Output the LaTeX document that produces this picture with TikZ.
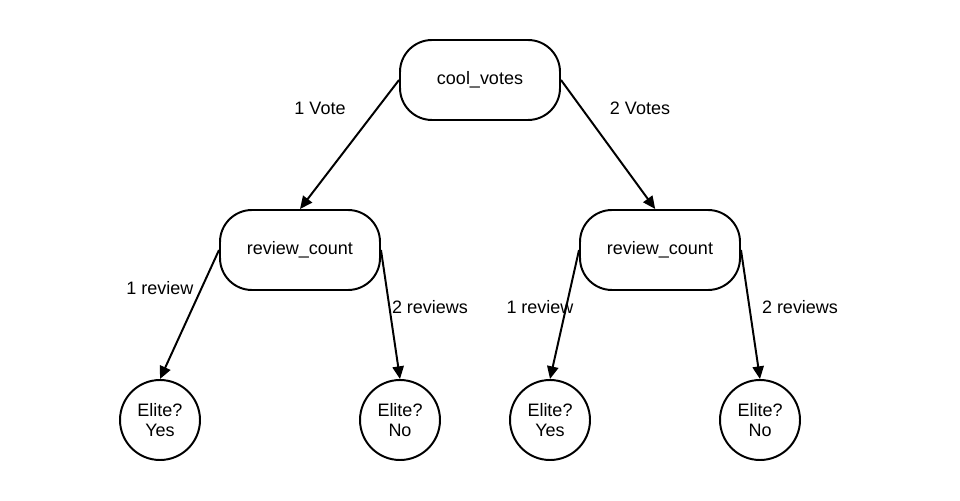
\documentclass[tikz,border=0pt]{standalone}
\usepackage{fontspec}
\setmainfont{Liberation Sans}
\usetikzlibrary{arrows.meta,positioning}

\tikzset{
  attr/.style={draw, line width=1.4pt, rounded corners=0.8cm, minimum width=4cm, minimum height=2cm},
  leaf/.style={draw, circle, line width=1.4pt, minimum size=2cm, inner sep=0pt, align=center},
  branch/.style={-{Triangle[length=9pt,width=8pt]}, line width=1.4pt},
}

\begin{document}
\begin{tikzpicture}[font=\fontsize{12.8}{14.2}\selectfont]
    \useasboundingbox (0,0) rectangle (24,12.5);

    \node[attr] (cool) at (12,10.5) {cool\_votes};
    \node[attr] (rev1) at (7.5,6.25) {review\_count};
    \node[attr] (rev2) at (16.5,6.25) {review\_count};

    \node[leaf] (yes1) at (4,2)     {Elite?\\Yes};
    \node[leaf] (no1)  at (10,2)    {Elite?\\No};
    \node[leaf] (yes2) at (13.75,2) {Elite?\\Yes};
    \node[leaf] (no2)  at (19,2)    {Elite?\\No};

    \draw[branch] (cool.west) -- (rev1.north);
    \draw[branch] (cool.east) -- ([xshift=-0.12cm]rev2.north);
    \draw[branch] (rev1.west) -- (yes1.north);
    \draw[branch] (rev1.east) -- (no1.north);
    \draw[branch] (rev2.west) -- (yes2.north);
    \draw[branch] (rev2.east) -- (no2.north);

    % branch labels
    \node (vote1)  at (8,9.8)      {1 Vote};
    \node (vote2)  at (16,9.8)     {2 Votes};
    \node (count1) at (4,5.3)      {1 review};
    \node (count2) at (10.75,4.82) {2 reviews};
    \node (count3) at (13.5,4.82)  {1 review};
    \node (count4) at (20,4.82)    {2 reviews};
\end{tikzpicture}
\end{document}
